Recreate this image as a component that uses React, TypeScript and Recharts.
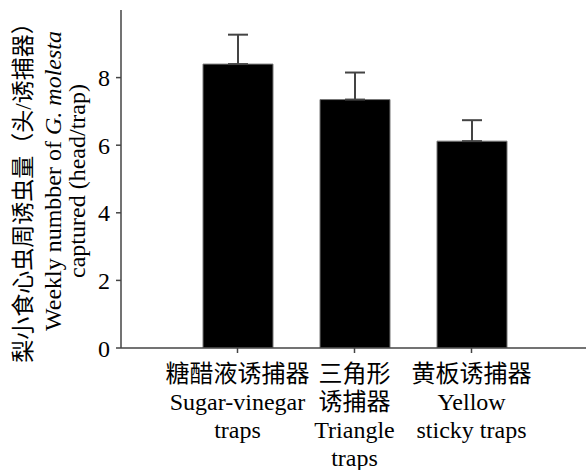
import React from "react";
import { BarChart, Bar, XAxis, YAxis, ErrorBar } from "recharts";

// 三种诱捕器的周诱虫量（均值 + 标准误，只画上方误差线）
const categories = ["sugar", "triangle", "yellow"];
const tickLines = [
  ["糖醋液诱捕器", "Sugar-vinegar", "traps"],
  ["三角形", "诱捕器", "Triangle", "traps"],
  ["黄板诱捕器", "Yellow", "sticky traps"],
];
const means = [8.4, 7.35, 6.12];
const errors = [0.87, 0.8, 0.62];
const yTicks = [0, 2, 4, 6, 8];

const data = categories.map((name, i) => ({
  name,
  value: means[i],
  err: [0, errors[i]],
}));

const FONT = '"Liberation Serif", "DejaVu Serif", serif, "Noto Sans CJK SC"';
const AXIS = "#444";

function CategoryTick(props: any) {
  const { x, y, payload } = props;
  const lines = tickLines[categories.indexOf(payload.value)] || [];
  return (
    <g>
      {lines.map((t, i) => (
        <text
          key={i}
          x={x}
          y={y + 27 + i * 28}
          textAnchor="middle"
          fill="#000"
          style={{ fontSize: 24, fontFamily: FONT }}
        >
          {t}
        </text>
      ))}
    </g>
  );
}

function YLabel(props: any) {
  const vb = props.viewBox || { y: 10, height: 338 };
  const cy = vb.y + vb.height / 2 + 2;
  const line = (x: number, y: number, size: number, children: React.ReactNode) => (
    <text
      x={x}
      y={y}
      transform={`rotate(-90, ${x}, ${y})`}
      textAnchor="middle"
      fill="#000"
      style={{ fontSize: size, fontFamily: FONT }}
    >
      {children}
    </text>
  );
  return (
    <g>
      {line(31, cy + 6, 23, "梨小食心虫周诱虫量（头/诱捕器）")}
      {line(
        61,
        cy,
        24,
        <>
          Weekly numbber of <tspan fontStyle="italic">G. molesta</tspan>
        </>
      )}
      {line(85, cy, 24, "captured (head/trap)")}
    </g>
  );
}

export default function App() {
  return (
    <div style={{ position: "absolute", left: 0, top: 0, background: "#fff" }}>
      <BarChart
        width={586}
        height={470}
        data={data}
        margin={{ top: 10, right: 0, bottom: 0, left: 0 }}
      >
        <XAxis
          dataKey="name"
          height={122}
          padding={{ left: 58, right: 56 }}
          axisLine={{ stroke: AXIS, strokeWidth: 1.5 }}
          tickLine={{ stroke: AXIS, strokeWidth: 1.5 }}
          tickSize={5}
          tickMargin={2}
          interval={0}
          tick={<CategoryTick />}
        />
        <YAxis
          width={121}
          domain={[0, 10]}
          ticks={yTicks}
          allowDataOverflow
          axisLine={{ stroke: AXIS, strokeWidth: 1.5 }}
          tickLine={{ stroke: AXIS, strokeWidth: 1.5 }}
          tickSize={5}
          tickMargin={6}
          tick={{ fontSize: 24, fontFamily: FONT, fill: "#000", style: { fontFamily: FONT } }}
          label={<YLabel />}
        />
        <Bar
          dataKey="value"
          fill="#000"
          stroke="#777"
          strokeWidth={1}
          barSize={70}
          isAnimationActive={false}
        >
          <ErrorBar
            dataKey="err"
            direction="y"
            width={10}
            stroke={AXIS}
            strokeWidth={2}
            isAnimationActive={false}
          />
        </Bar>
      </BarChart>
    </div>
  );
}
